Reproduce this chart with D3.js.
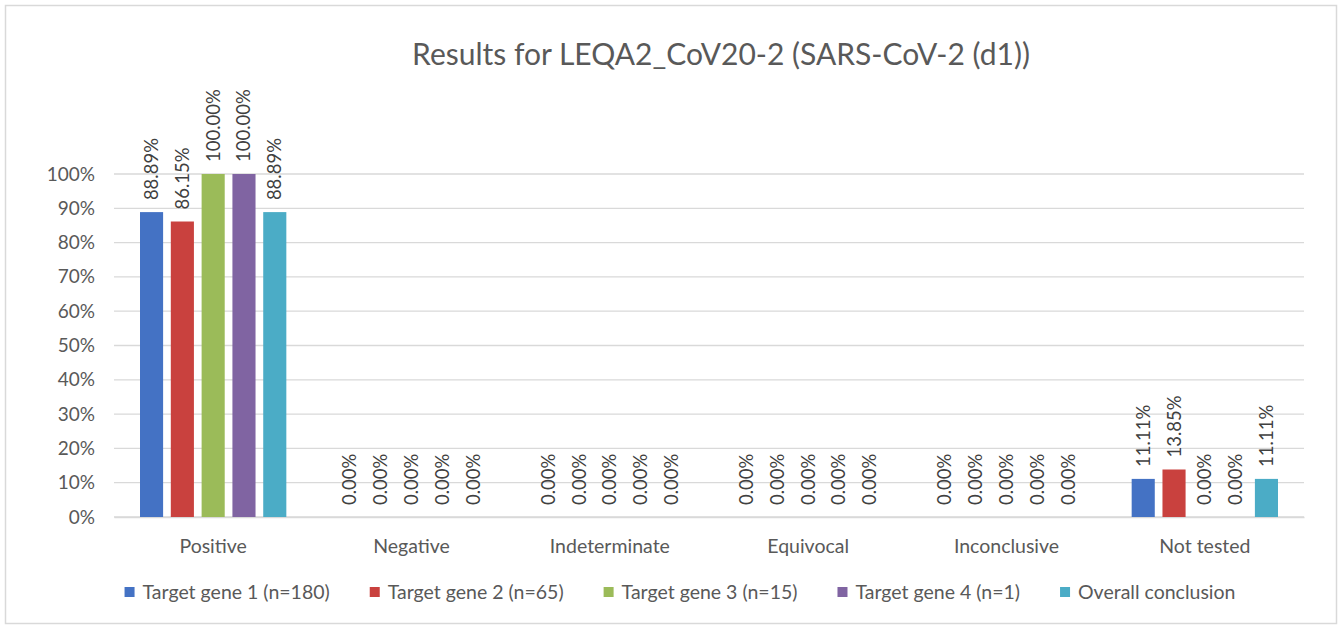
<!DOCTYPE html>
<html>
<head>
<meta charset="utf-8">
<script src="https://cdn.jsdelivr.net/npm/d3@7"></script>
<style>
  body { margin: 0; background: #ffffff; }
  svg { display: block; }
</style>
</head>
<body>
<script>
// -----------------------------
// Data
// -----------------------------
const categories = ["Positive", "Negative", "Indeterminate", "Equivocal", "Inconclusive", "Not tested"];
const seriesNames = ["Target gene 1 (n=180)", "Target gene 2 (n=65)", "Target gene 3 (n=15)", "Target gene 4 (n=1)", "Overall conclusion"];
const gene1 = [0.8889, 0, 0, 0, 0, 0.1111];
const gene2 = [0.8615, 0, 0, 0, 0, 0.1385];
const gene3 = [1.0, 0, 0, 0, 0, 0];
const gene4 = [1.0, 0, 0, 0, 0, 0];
const overall = [0.8889, 0, 0, 0, 0, 0.1111];
const yTicks = [0, 0.1, 0.2, 0.3, 0.4, 0.5, 0.6, 0.7, 0.8, 0.9, 1.0];
const titleText = "Results for LEQA2_CoV20-2 (SARS-CoV-2 (d1))";

const seriesValues = [gene1, gene2, gene3, gene4, overall];
const colors = ["#4472C4", "#C9413E", "#9BBB59", "#8064A2", "#4BACC6"];

// -----------------------------
// SVG Setup
// -----------------------------
const WIDTH = 1342;
const HEIGHT = 626;
const FONT = "Lato, 'Open Sans', sans-serif";
const TEXT_COLOR = "#595959";

const svg = d3.select("body").append("svg")
  .attr("width", WIDTH)
  .attr("height", HEIGHT)
  .attr("viewBox", `0 0 ${WIDTH} ${HEIGHT}`)
  .style("font-family", FONT);

// chart frame
svg.append("rect")
  .attr("x", 5.5).attr("y", 5.5)
  .attr("width", 1331).attr("height", 618)
  .attr("fill", "#ffffff")
  .attr("stroke", "#d9d9d9")
  .attr("stroke-width", 1.5);

// plot area
const PLOT = { left: 114, right: 1304, top: 174, bottom: 517 };

const x0 = d3.scaleBand()
  .domain(categories)
  .range([PLOT.left, PLOT.right]);

const x1 = d3.scaleBand()
  .domain(d3.range(seriesNames.length))
  .range([26, x0.bandwidth() - 26])
  .paddingInner(0.25);

const y = d3.scaleLinear()
  .domain([0, 1])
  .range([PLOT.bottom, PLOT.top]);

// -----------------------------
// Grid and axes
// -----------------------------
svg.append("g")
  .selectAll("line")
  .data(yTicks)
  .join("line")
  .attr("x1", PLOT.left).attr("x2", PLOT.right)
  .attr("y1", d => y(d)).attr("y2", d => y(d))
  .attr("stroke", "#d9d9d9")
  .attr("stroke-width", 1.3);

const yAxis = d3.axisLeft(y)
  .tickValues(yTicks)
  .tickFormat(d3.format(".0%"))
  .tickSize(0)
  .tickPadding(0);

const yAxisG = svg.append("g")
  .attr("transform", `translate(95,0)`)
  .call(yAxis);
yAxisG.select(".domain").remove();
yAxisG.selectAll(".tick text")
  .attr("font-family", FONT)
  .attr("font-size", 19)
  .attr("fill", TEXT_COLOR);

const xAxis = d3.axisBottom(x0).tickSize(0).tickPadding(0);
const xAxisG = svg.append("g")
  .attr("transform", `translate(0,${PLOT.bottom})`)
  .call(xAxis);
xAxisG.select(".domain")
  .attr("stroke", "#d9d9d9")
  .attr("stroke-width", 1.3);
xAxisG.selectAll(".tick text")
  .attr("y", 36)
  .attr("dy", 0)
  .attr("font-family", FONT)
  .attr("font-size", 19.5)
  .attr("fill", TEXT_COLOR);

// -----------------------------
// Bars and labels
// -----------------------------
const groups = svg.append("g")
  .selectAll("g")
  .data(categories)
  .join("g")
  .attr("transform", d => `translate(${x0(d)},0)`);

const cells = groups.selectAll("g")
  .data((c, ci) => seriesValues.map((vals, si) => ({ si, v: vals[ci] })))
  .join("g");

cells.append("rect")
  .attr("x", d => x1(d.si))
  .attr("y", d => y(d.v))
  .attr("width", x1.bandwidth())
  .attr("height", d => y(0) - y(d.v))
  .attr("fill", d => colors[d.si]);

cells.append("text")
  .attr("transform", d => `translate(${x1(d.si) + x1.bandwidth() / 2 + 6.5},${y(d.v) - 12}) rotate(-90)`)
  .attr("font-size", 18.5)
  .attr("fill", "#404040")
  .text(d => d3.format(".2%")(d.v));

// -----------------------------
// Title
// -----------------------------
svg.append("text")
  .attr("x", 721)
  .attr("y", 65)
  .attr("text-anchor", "middle")
  .attr("font-size", 30)
  .attr("fill", TEXT_COLOR)
  .text(titleText);

// -----------------------------
// Legend
// -----------------------------
const legend = svg.append("g");
let cursor = 0;
seriesNames.forEach((name, i) => {
  const item = legend.append("g").attr("transform", `translate(${cursor},0)`);
  item.append("rect")
    .attr("x", 0).attr("y", -5)
    .attr("width", 10).attr("height", 10)
    .attr("fill", colors[i]);
  const t = item.append("text")
    .attr("x", 18)
    .attr("y", 7)
    .attr("font-size", 19.5)
    .attr("fill", TEXT_COLOR)
    .text(name);
  cursor += 18 + t.node().getComputedTextLength() + 40;
});
const legendWidth = cursor - 40;
legend.attr("transform", `translate(${680 - legendWidth / 2},592)`);
</script>
</body>
</html>
